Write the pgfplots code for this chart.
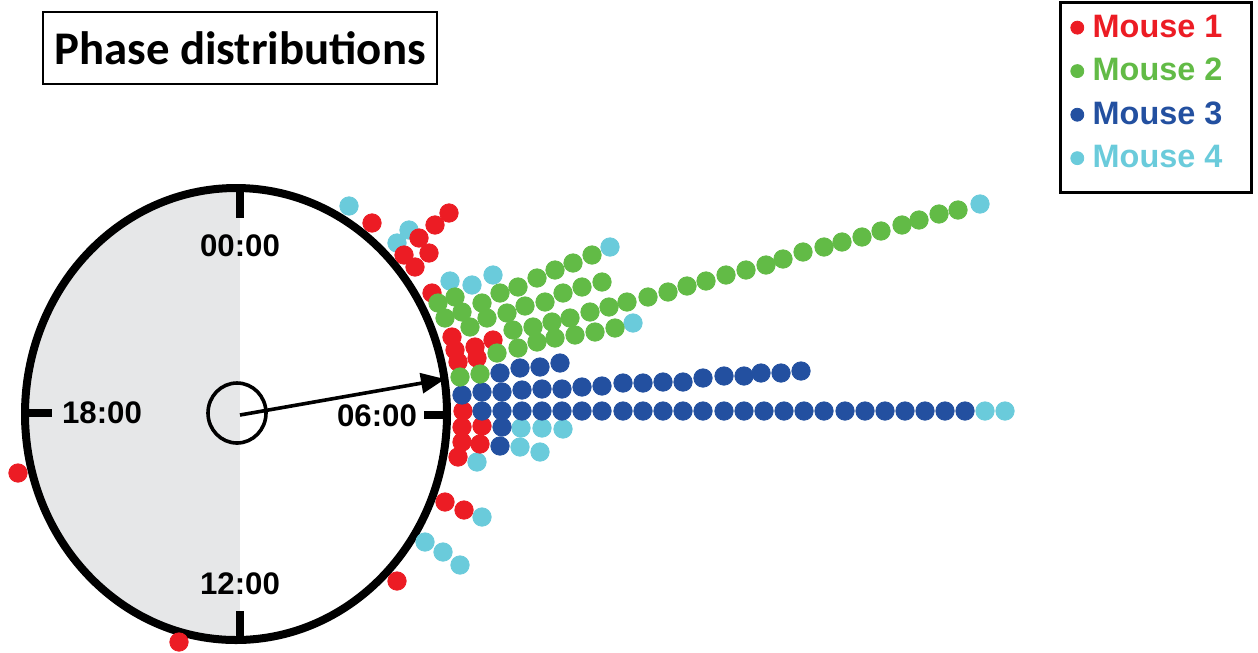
\documentclass[border=0pt]{standalone}
\usepackage{pgfplots}
\pgfplotsset{compat=1.18}
\usepackage{fontspec}
\setmainfont{Liberation Sans}
\newfontfamily\calibri{Carlito}
\usetikzlibrary{arrows.meta}
\definecolor{mred}{HTML}{EC1C24}
\definecolor{mgreen}{HTML}{62BB46}
\definecolor{mblue}{HTML}{2350A0}
\definecolor{mcyan}{HTML}{6ACBDB}
\definecolor{clockgray}{HTML}{E6E7E8}
\begin{document}
\begin{tikzpicture}
\begin{axis}[
  scale only axis, width=629pt, height=326pt,
  xmin=0, xmax=1258, ymin=0, ymax=652, y dir=reverse,
  hide axis, clip=false,
  legend style={at={(axis cs:1062,2)}, anchor=north west, draw=none, fill=none,
    font=\fontsize{16.2}{19}\selectfont\bfseries, row sep=5pt,
    inner xsep=4pt, inner ysep=4.3pt, nodes={inner sep=2pt}},
  legend cell align=left,
  legend image code/.code={\fill (0pt,0pt) circle (3.25pt); \path (5.5pt,0pt);},
  dots/.style={only marks, mark=*, mark size=4.6pt, forget plot},
]
\fill[white] (axis cs:0,0) rectangle (axis cs:1258,652);
% legend frame
\draw[line width=1.5pt] (axis cs:1060,2.5) rectangle (axis cs:1251.5,192.5);
% clock
\begin{scope}
\clip (axis cs:236,414) ellipse [x radius=105.5pt, y radius=113pt];
\fill[clockgray] (axis cs:0,150) rectangle (axis cs:240,660);
\end{scope}
\draw[line width=4pt] (axis cs:236,414) ellipse [x radius=105.5pt, y radius=113pt];
\draw[line width=4pt] (axis cs:240,188) -- (axis cs:240,218);
\draw[line width=4pt] (axis cs:240,611) -- (axis cs:240,640);
\draw[line width=4pt] (axis cs:24,413) -- (axis cs:52,413);
\draw[line width=4pt] (axis cs:424,415) -- (axis cs:447,415);
\draw[line width=1.8pt] (axis cs:237,413) ellipse [x radius=14.5pt, y radius=15pt];
\draw[line width=1.8pt, -{Triangle[length=12pt,width=10pt]}] (axis cs:240,415) -- (axis cs:445,379);
\node[font=\fontsize{15.6}{18}\selectfont\bfseries] at (axis cs:240,246) {00:00};
\node[font=\fontsize{15.6}{18}\selectfont\bfseries] at (axis cs:102,413) {18:00};
\node[font=\fontsize{15.6}{18}\selectfont\bfseries] at (axis cs:377,416) {06:00};
\node[font=\fontsize{15.6}{18}\selectfont\bfseries] at (axis cs:240,584) {12:00};
% title
\node[draw, line width=1pt, minimum width=197pt, minimum height=36pt, inner sep=0pt,
  font=\calibri\bfseries\fontsize{23.4}{28}\selectfont] at (axis cs:240,48) {Phase distributions};
% legend
\addlegendimage{color=mred}
\addlegendentry{\textcolor{mred}{Mouse 1}}
\addlegendimage{color=mgreen}
\addlegendentry{\textcolor{mgreen}{Mouse 2}}
\addlegendimage{color=mblue}
\addlegendentry{\textcolor{mblue}{Mouse 3}}
\addlegendimage{color=mcyan}
\addlegendentry{\textcolor{mcyan}{Mouse 4}}
% Mouse 4
\addplot[dots, color=mcyan, mark options={fill=mcyan, draw=mcyan}] table {
x y
349 206
409 230
397 243
450 281
472 285
493 275
610 247
633 323
980 204
985 411
1005 411
521 428
542 428
563 429
520 447
540 452
477 462
482 517
425 542
443 552
460 565
};
% Mouse 1
\addplot[dots, color=mred, mark options={fill=mred, draw=mred}] table {
x y
18 473
179 642
397 581
372 223
404 255
415 267
419 238
429 253
435 225
449 213
432 293
452 337
455 350
458 362
475 347
477 358
493 340
463 411
462 427
462 442
458 457
482 426
480 444
445 502
464 510
};
% Mouse 3
\addplot[dots, color=mblue, mark options={fill=mblue, draw=mblue}] table {
x y
500 373
520 368
540 367
560 363
462 395
482 392
502 392
522 390
542 389
562 389
582 387
602 386
623 383
643 383
663 382
683 382
703 378
724 376
744 376
761 373
781 373
801 371
482 411
502 411
522 411
542 411
562 411
582 411
602 411
623 411
643 411
663 411
683 411
703 411
724 411
744 411
764 411
784 411
804 411
824 411
845 411
865 411
885 411
905 411
925 411
945 411
965 411
502 427
500 446
};
% Mouse 2
\addplot[dots, color=mgreen, mark options={fill=mgreen, draw=mgreen}] table {
x y
438 303
455 297
445 318
462 312
482 303
500 293
518 287
537 278
555 270
573 263
592 255
470 327
487 318
507 313
525 306
545 302
563 293
582 287
602 282
513 330
533 327
552 322
570 318
590 312
609 307
627 302
648 297
668 292
687 286
706 281
726 275
746 270
766 265
783 259
803 252
824 247
842 242
862 237
881 231
902 225
919 220
939 214
958 210
497 353
518 348
537 342
555 338
575 335
595 332
615 328
460 377
480 374
};
\end{axis}
\end{tikzpicture}
\end{document}
